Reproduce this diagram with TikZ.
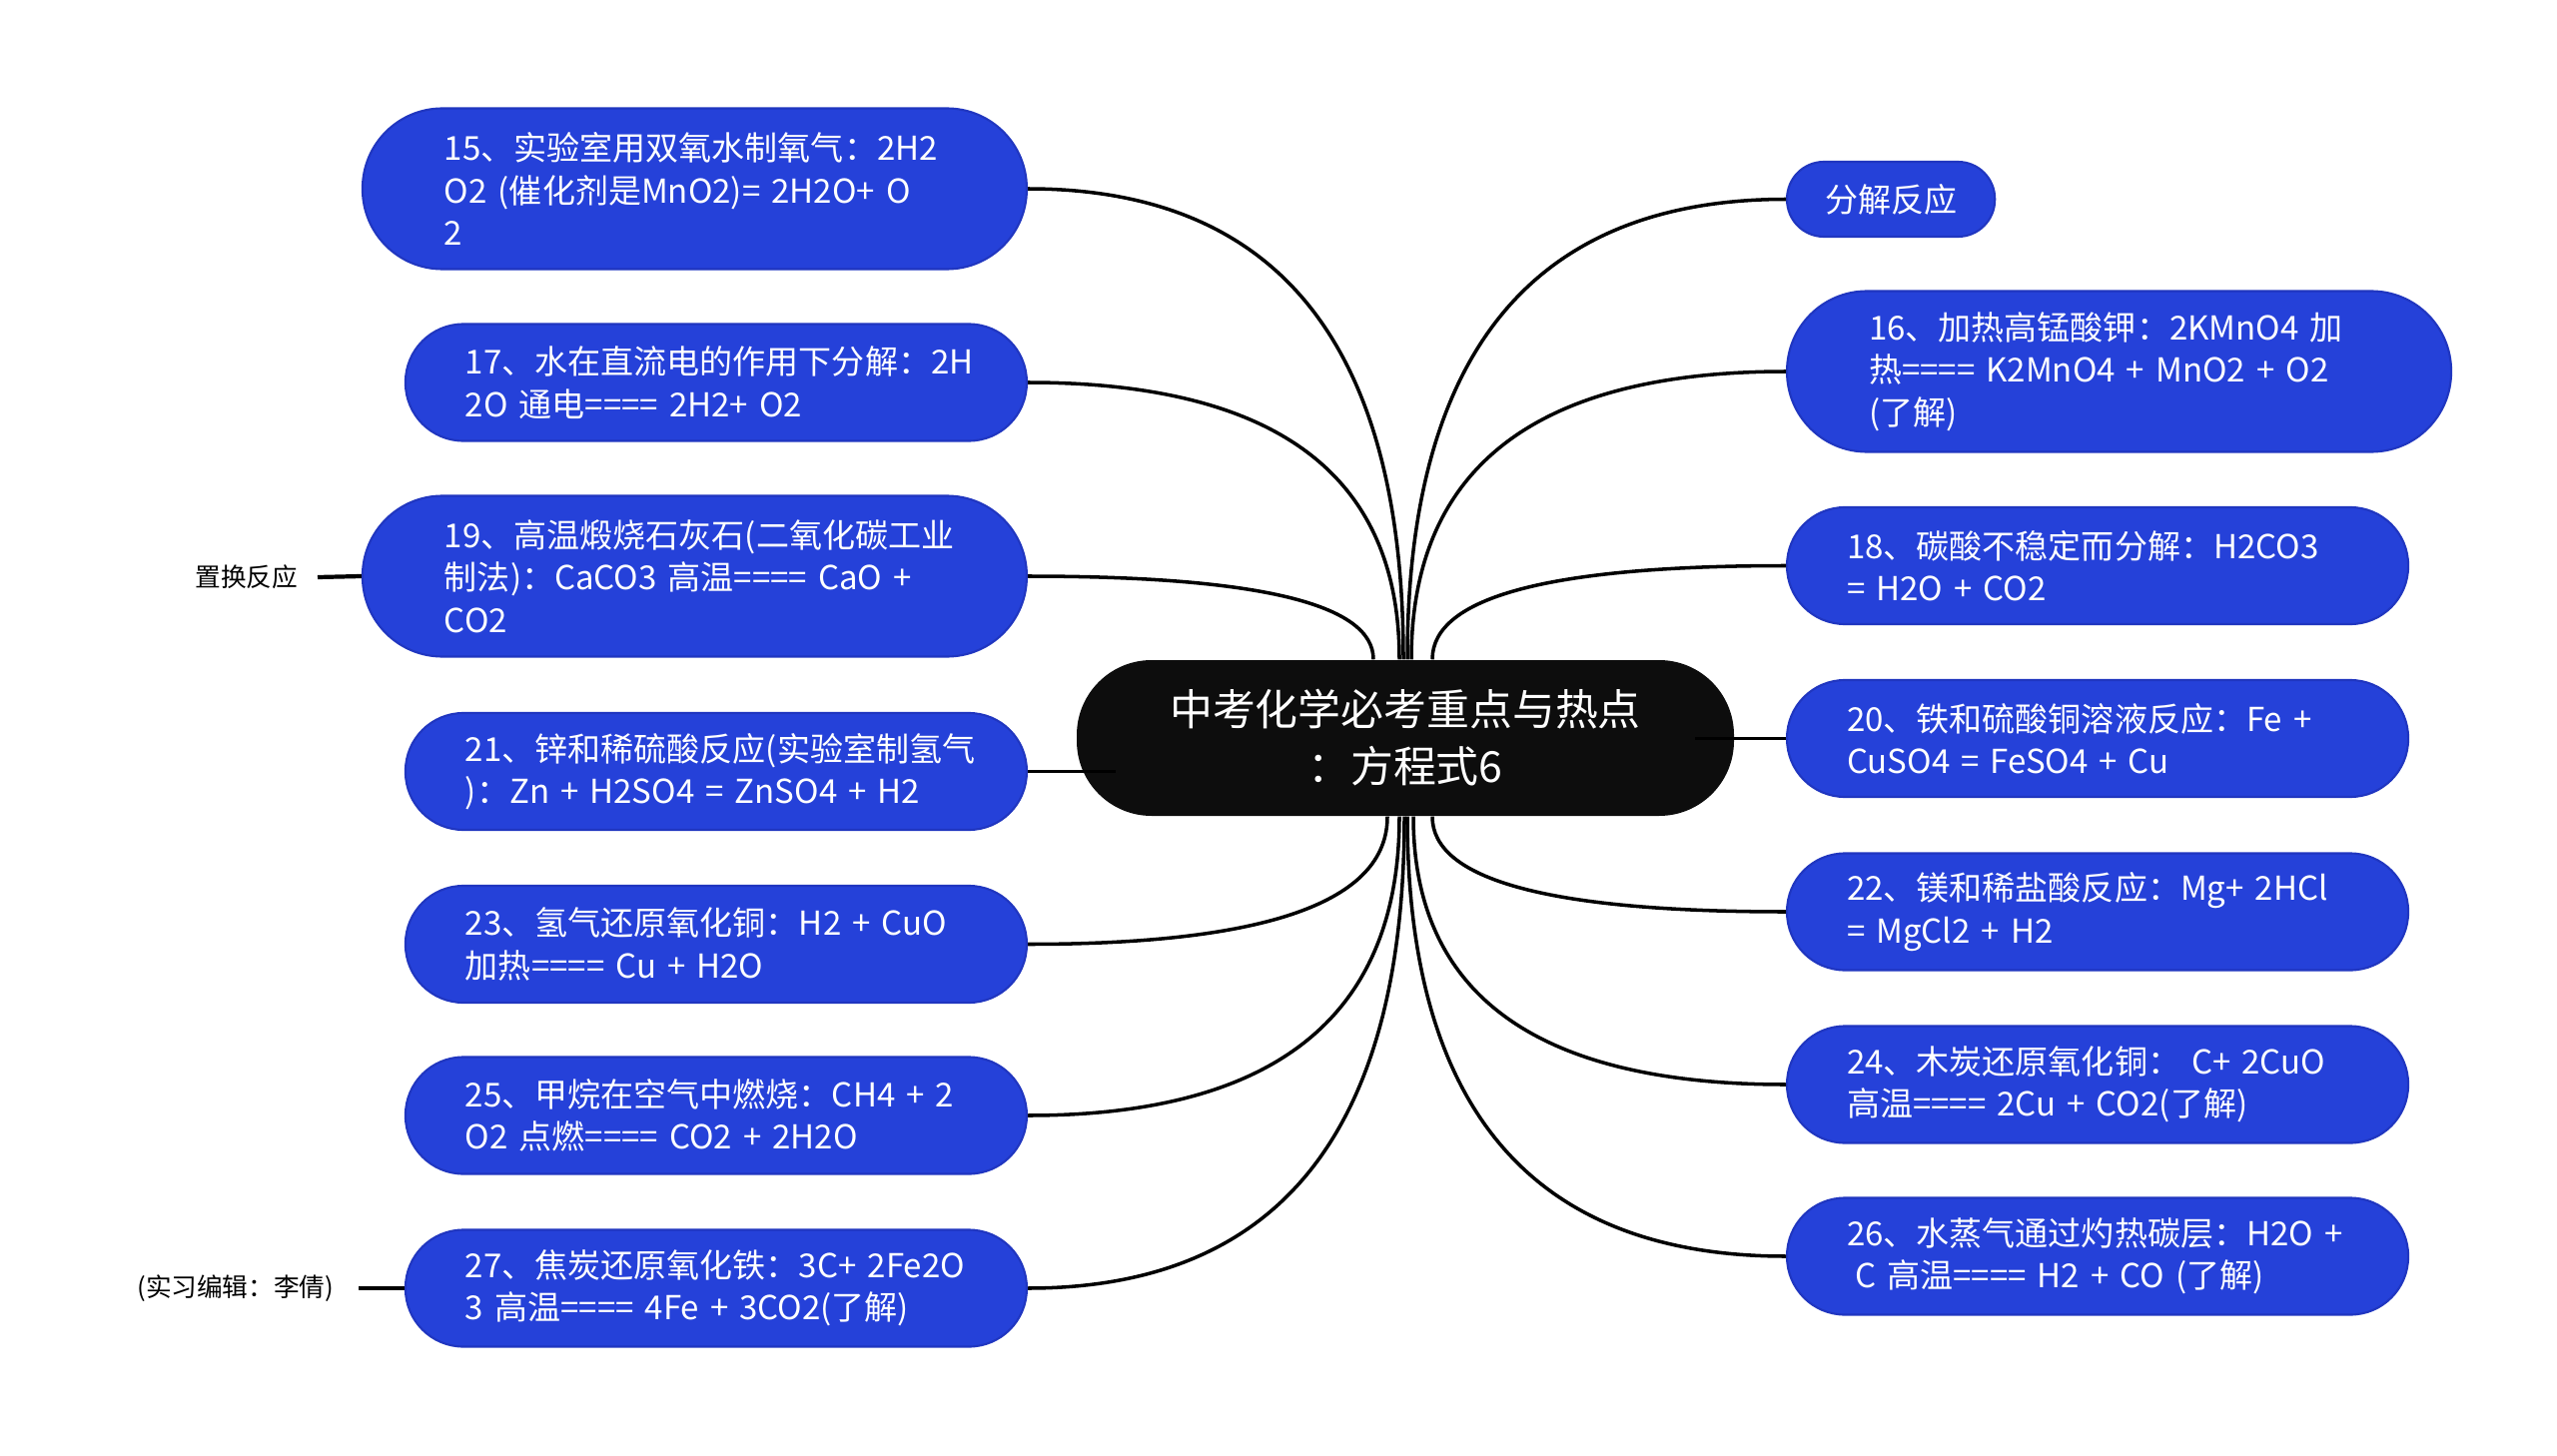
\documentclass[tikz,border=0pt]{standalone}
\usepackage{fontspec}
\setmainfont{Noto Sans CJK SC}
\usepackage{tikz}
\usetikzlibrary{calc, positioning}
\definecolor{topicblue}{HTML}{2541D9}
\definecolor{topicedge}{HTML}{2036C0}
\definecolor{rootblack}{HTML}{0D0D0D}
\tikzstyle{root} = [rectangle, fill=rootblack, text=white, rounded corners=0.75cm,
  minimum width=6.58cm, minimum height=1.56cm, align=center,
  font=\fontsize{12.2}{16.2}\selectfont]
\tikzstyle{topic} = [rectangle, fill=topicblue, draw=topicedge, line width=0.6pt,
  text=white, align=left, font=\fontsize{9.4}{12.1}\selectfont]
\tikzstyle{twoline} = [topic, text width=5.02cm, inner xsep=0.6cm, minimum height=1.17cm, rounded corners=0.58cm]
\tikzstyle{threeline} = [topic, text width=5.01cm, inner xsep=0.82cm, minimum height=1.61cm, rounded corners=0.8cm]
\tikzstyle{oneline} = [topic, inner xsep=0.38cm, minimum height=0.75cm, rounded corners=0.37cm]
\tikzstyle{note} = [font=\fontsize{7.3}{9}\selectfont, text=black, inner ysep=0pt]
\tikzstyle{link} = [line width=1pt, black]

\begin{document}
\begin{tikzpicture}
  \useasboundingbox (0,0) rectangle (25.6,-14.58);

  \node[root] (c) at (14.07,-7.39) {中考化学必考重点与热点\\：方程式6};

  % left side
  \node[threeline, anchor=east] (n15) at (10.29,-1.89)
    {15、实验室用双氧水制氧气：2H2\\O2 (催化剂是MnO2)= 2H2O+ O\\2};
  \node[twoline, anchor=east] (n17) at (10.29,-3.83)
    {17、水在直流电的作用下分解：2H\\2O 通电==== 2H2+ O2};
  \node[threeline, anchor=east] (n19) at (10.29,-5.77)
    {19、高温煅烧石灰石(二氧化碳工业\\制法)：CaCO3 高温==== CaO +\\CO2};
  \node[twoline, anchor=east] (n21) at (10.29,-7.725)
    {21、锌和稀硫酸反应(实验室制氢气\\)：Zn + H2SO4 = ZnSO4 + H2};
  \node[twoline, anchor=east] (n23) at (10.29,-9.455)
    {23、氢气还原氧化铜：H2 + CuO\\加热==== Cu + H2O};
  \node[twoline, anchor=east] (n25) at (10.29,-11.17)
    {25、甲烷在空气中燃烧：CH4 + 2\\O2 点燃==== CO2 + 2H2O};
  \node[twoline, anchor=east] (n27) at (10.29,-12.90)
    {27、焦炭还原氧化铁：3C+ 2Fe2O\\3 高温==== 4Fe + 3CO2(了解)};

  % right side
  \node[oneline, anchor=west] (fj) at (17.88,-1.995) {分解反应};
  \node[threeline, anchor=west] (n16) at (17.88,-3.72)
    {16、加热高锰酸钾：2KMnO4 加\\热==== K2MnO4 + MnO2 + O2\\(了解)};
  \node[twoline, anchor=west] (n18) at (17.88,-5.665)
    {18、碳酸不稳定而分解：H2CO3\\= H2O + CO2};
  \node[twoline, anchor=west] (n20) at (17.88,-7.395)
    {20、铁和硫酸铜溶液反应：Fe +\\CuSO4 = FeSO4 + Cu};
  \node[twoline, anchor=west] (n22) at (17.88,-9.13)
    {22、镁和稀盐酸反应：Mg+ 2HCl\\= MgCl2 + H2};
  \node[twoline, anchor=west] (n24) at (17.88,-10.86)
    {24、木炭还原氧化铜： C+ 2CuO\\高温==== 2Cu + CO2(了解)};
  \node[twoline, anchor=west] (n26) at (17.88,-12.58)
    {26、水蒸气通过灼热碳层：H2O +\\\hspace{0.25em}C 高温==== H2 + CO (了解)};

  % notes
  \node[note, anchor=east, inner xsep=0.19cm] (zh) at (3.18,-5.78) {置换反应};
  \node[note, anchor=east, inner xsep=0.24cm] (bj) at (3.59,-12.90) {(实习编辑：李倩)};

  % curved branches
  \foreach \nd/\sd/\an/\dx in {n15/east/north/-0.02, n17/east/north/-0.06, n19/east/north/-0.32,
      fj/west/north/0.02, n16/west/north/0.06, n18/west/north/0.27,
      n23/east/south/-0.18, n25/east/south/-0.06, n27/east/south/-0.01,
      n22/west/south/0.27, n24/west/south/0.08, n26/west/south/0.02}
    \draw[link] ([xshift=\dx cm]c.\an) coordinate (s)
      .. controls ($(s)!0.667!(s |- \nd.\sd)$) and ($(\nd.\sd)!0.667!(s |- \nd.\sd)$) .. (\nd.\sd);

  \draw[link] (n21.east) -- ([xshift=0.4cm]c.west |- n21.east);
  \draw[link] (n20.west) -- ([xshift=-0.4cm]c.east |- n20.west);
  \draw[link, line width=1.2pt] (zh.east) -- (n19.west);
  \draw[link, line width=1.2pt] (bj.east) -- (n27.west);
\end{tikzpicture}
\end{document}
